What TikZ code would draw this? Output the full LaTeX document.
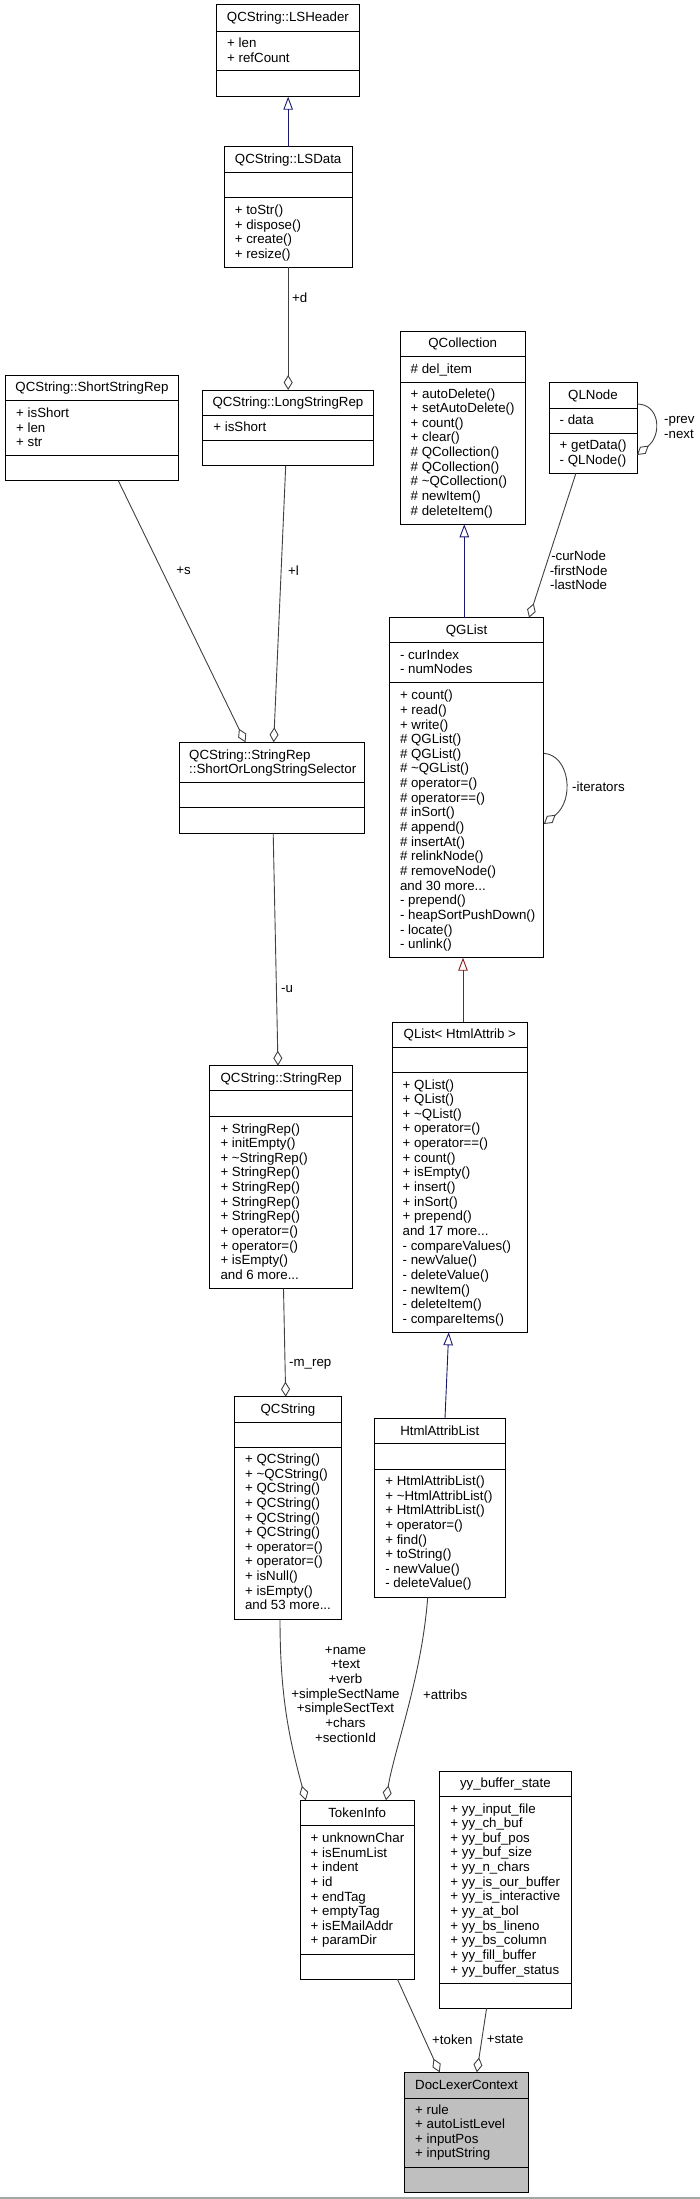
\documentclass[tikz,border=0pt]{standalone}
\usepackage{fontspec}
\setmainfont{Liberation Sans}
\usetikzlibrary{arrows.meta,calc}
\definecolor{inhcol}{RGB}{25,25,112}
\definecolor{tplcol}{RGB}{139,26,26}
\definecolor{aggcol}{RGB}{64,64,64}
\definecolor{dlcfill}{RGB}{191,191,191}
\newcommand\threedots{...}
\newcommand\umlbox[8][white]{%
  \node[clsbox, fill=#1, anchor=north west, minimum width={#5-#3}, minimum height={#6-#4}] (#2) at (#3,#4) {};
  \draw[clsline] (#3,#7) -- (#5,#7);
  \draw[clsline] (#3,#8) -- (#5,#8);
}
\newcommand\umltitle[4]{\node[clstitle] (#1) at (#2,#3) {#4};}
\newcommand\umlmembers[4]{%
  \foreach \t [count=\i from 0] in {#4}{\node[clsmem] (#1-\i) at (#2,{#3+\i*14.65}) {\t};}%
}
\begin{document}
\begin{tikzpicture}[x=1pt,y=-1pt,
  every node/.style={font=\fontsize{13.3}{14.65}\selectfont},
  clsbox/.style={draw=black, line width=1pt, inner sep=0pt, outer sep=0pt},
  clsline/.style={draw=black, line width=1pt},
  clstitle/.style={anchor=base, inner sep=0pt},
  clsmem/.style={anchor=base west, inner sep=0pt},
  elabel/.style={inner sep=0pt},
  inh/.style={draw=inhcol, line width=0.9pt, -{Triangle[open,length=13pt,width=9.5pt]}},
  tpl/.style={draw=tplcol, line width=0.9pt, -{Triangle[open,length=13pt,width=9.5pt]}},
  agg/.style={draw=aggcol, line width=0.9pt, -{Diamond[open,length=15pt,width=9pt]}},
  bottomline/.style={draw=black!35, line width=1.5pt}]
\useasboundingbox (0,0) rectangle (700,2199);

% ---------------- boxes ----------------
\umlbox{lsheader}{216.5}{5}{359.4}{96.7}{31.7}{71}
\umltitle{lsheader-t}{287.95}{22}{QCString::LSHeader}
\umlmembers{lsheader-a}{227}{47.4}{+ len, + refCount}

\umlbox{lsdata}{224.1}{147}{352.2}{267.3}{172.7}{198}
\umltitle{lsdata-t}{288.15}{163.3}{QCString::LSData}
\umlmembers{lsdata-m}{234.6}{214.7}{+ toStr(), + dispose(), + create(), + resize()}

\umlbox{shortrep}{5.4}{375.3}{178.6}{480.7}{400.3}{455}
\umltitle{shortrep-t}{92}{391.4}{QCString::ShortStringRep}
\umlmembers{shortrep-a}{16}{417.4}{+ isShort, + len, + str}

\umlbox{longrep}{202.7}{390}{373.2}{465.7}{415.3}{440.7}
\umltitle{longrep-t}{287.95}{406.4}{QCString::LongStringRep}
\umlmembers{longrep-a}{213.2}{431.4}{+ isShort}

\umlbox{qcoll}{400}{331.7}{525.4}{524.3}{356.7}{382}
\umltitle{qcoll-t}{462.7}{347.4}{QCollection}
\umlmembers{qcoll-a}{410.5}{373.4}{\# del\_item}
\umlmembers{qcoll-m}{410.5}{398}{+ autoDelete(), + setAutoDelete(), + count(), + clear(), \# QCollection(), \# QCollection(), \# \textasciitilde QCollection(), \# newItem(), \# deleteItem()}

\umlbox{qlnode}{549}{382.7}{637}{473}{408}{433.3}
\umltitle{qlnode-t}{593}{399}{QLNode}
\umlmembers{qlnode-a}{559.5}{424}{- data}
\umlmembers{qlnode-m}{559.5}{449.7}{+ getData(), - QLNode()}

\umlbox{qglist}{389.3}{617.7}{543.8}{957.7}{642.7}{682.7}
\umltitle{qglist-t}{466.55}{634}{QGList}
\umlmembers{qglist-a}{399.8}{659}{- curIndex, - numNodes}
\umlmembers{qglist-m}{399.8}{699.7}{+ count(), + read(), + write(), \# QGList(), \# QGList(), \# \textasciitilde QGList(), \# operator=(), \# operator==(), \# inSort(), \# append(), \# insertAt(), \# relinkNode(), \# removeNode(), and 30 more\threedots, - prepend(), - heapSortPushDown(), - locate(), - unlink()}

\umlbox{selector}{179}{742.3}{364.7}{833.3}{782.7}{807.7}
\node[clsmem] (selector-t1) at (189,759) {QCString::StringRep};
\node[clsmem] (selector-t2) at (189,773.65) {::ShortOrLongStringSelector};

\umlbox{strrep}{209.8}{1065.7}{352.7}{1288.7}{1090.7}{1116.7}
\umltitle{strrep-t}{281.25}{1082.4}{QCString::StringRep}
\umlmembers{strrep-m}{220.3}{1133}{+ StringRep(), + initEmpty(), + \textasciitilde StringRep(), + StringRep(), + StringRep(), + StringRep(), + StringRep(), + operator=(), + operator=(), + isEmpty(), and 6 more\threedots}

\umlbox{qlist}{392}{1022}{527.7}{1332.3}{1047}{1072.7}
\umltitle{qlist-t}{459.85}{1038}{QList< HtmlAttrib >}
\umlmembers{qlist-m}{402.5}{1089}{+ QList(), + QList(), + \textasciitilde QList(), + operator=(), + operator==(), + count(), + isEmpty(), + insert(), + inSort(), + prepend(), and 17 more\threedots, - compareValues(), - newValue(), - deleteValue(), - newItem(), - deleteItem(), - compareItems()}

\umlbox{qcstring}{234.4}{1396.7}{341.5}{1619}{1422}{1447}
\umltitle{qcstring-t}{287.95}{1413}{QCString}
\umlmembers{qcstring-m}{244.9}{1463.4}{+ QCString(), + \textasciitilde QCString(), + QCString(), + QCString(), + QCString(), + QCString(), + operator=(), + operator=(), + isNull(), + isEmpty(), and 53 more\threedots}

\umlbox{hal}{374.6}{1418.3}{505}{1597.3}{1443.7}{1469.3}
\umltitle{hal-t}{439.8}{1435}{HtmlAttribList}
\umlmembers{hal-m}{385.1}{1485.4}{+ HtmlAttribList(), + \textasciitilde HtmlAttribList(), + HtmlAttribList(), + operator=(), + find(), + toString(), - newValue(), - deleteValue()}

\umlbox{tokeninfo}{300}{1800.3}{414.3}{1979}{1825.7}{1954}
\umltitle{tokeninfo-t}{357.15}{1817}{TokenInfo}
\umlmembers{tokeninfo-a}{310.5}{1842.4}{+ unknownChar, + isEnumList, + indent, + id, + endTag, + emptyTag, + isEMailAddr, + paramDir}

\umlbox{yybs}{439.7}{1771}{571}{2008.3}{1796.7}{1983.3}
\umltitle{yybs-t}{505.35}{1787.4}{yy\_buffer\_state}
\umlmembers{yybs-a}{450.2}{1813}{+ yy\_input\_file, + yy\_ch\_buf, + yy\_buf\_pos, + yy\_buf\_size, + yy\_n\_chars, + yy\_is\_our\_buffer, + yy\_is\_interactive, + yy\_at\_bol, + yy\_bs\_lineno, + yy\_bs\_column, + yy\_fill\_buffer, + yy\_buffer\_status}

\umlbox[dlcfill]{dlc}{404.5}{2072.3}{528.6}{2192.3}{2098.3}{2167.3}
\umltitle{dlc-t}{466.55}{2089}{DocLexerContext}
\umlmembers{dlc-a}{415}{2114}{+ rule, + autoListLevel, + inputPos, + inputString}

% ---------------- connectors ----------------
\draw[inh] (lsdata.north) -- (lsdata.north |- lsheader.south);
\draw[agg] (lsdata.south) -- (lsdata.south |- longrep.north);
\node[elabel, anchor=west] (lbl-d) at (292,298) {+d};

\draw[inh] ($(qcoll.south |- qglist.north)+(1.6,0)$) -- ($(qcoll.south)+(1.6,0)$);

\draw[agg] ($(qlnode.south)+(-17,0)$) -- ($(qglist.north)+(62.5,0)$);
\node[elabel, align=center] (lbl-cur) at (578.6,570.3) {-curNode\\-firstNode\\-lastNode};

\draw[agg] ([yshift=-21.3pt]qlnode.north east) .. controls +(23,0) and +(25,-20) .. ([yshift=-72.3pt]qlnode.north east);
\node[elabel, align=left, anchor=west] (lbl-pn) at (664,427.5) {-prev\\-next};

\draw[agg] ([yshift=-135.6pt]qglist.north east) .. controls +(26,2) and +(31,-24) .. ([yshift=-206.3pt]qglist.north east);
\node[elabel, anchor=west] (lbl-it) at (572,786.7) {-iterators};

\draw[agg] ($(shortrep.south)+(26.3,0)$) -- ($(selector.north)+(-26.35,0)$);
\node[elabel] (lbl-s) at (183.5,570.7) {+s};
\draw[agg] ($(longrep.south)+(-2.25,0)$) -- ($(selector.north)+(1.85,0)$);
\node[elabel, anchor=west] (lbl-l) at (288,570.7) {+l};

\draw[agg] ($(selector.south)+(1.35,0)$) -- ($(strrep.north)+(-3.25,0)$);
\node[elabel, anchor=west] (lbl-u) at (281,989) {-u};

\draw[tpl] ($(qlist.north)+(3.15,0)$) -- ($(qlist.north |- qglist.south)+(3.15,0)$);

\draw[agg] ($(strrep.south)+(2.25,0)$) -- ($(qcstring.north)+(-2.25,0)$);
\node[elabel, anchor=west] (lbl-mrep) at (289,1364) {-m\_rep};

\draw[inh] ($(hal.north)+(5.2,0)$) -- ($(qlist.south)+(-11.15,0)$);

\draw[agg] ($(qcstring.south)+(-7.95,0)$) .. controls +(0,80) and +(-16,-60) .. ($(tokeninfo.north)+(-51.35,0)$);
\node[elabel, align=center] (lbl-tok) at (345.5,1694.5) {+name\\+text\\+verb\\+simpleSectName\\+simpleSectText\\+chars\\+sectionId};

\draw[agg] ($(hal.south)+(-12.1,0)$) .. controls +(-6,80) and +(8,-50) .. ($(tokeninfo.north)+(28.85,0)$);
\node[elabel, anchor=west] (lbl-attr) at (423,1694.3) {+attribs};

\draw[agg] ($(tokeninfo.south)+(40.15,0)$) -- ($(dlc.north)+(-26.85,0)$);
\node[elabel, anchor=west] (lbl-token) at (432,2039.3) {+token};
\draw[agg] ($(yybs.south)+(-18.75,0)$) -- ($(dlc.north)+(10.25,0)$);
\node[elabel, anchor=west] (lbl-state) at (486.6,2039.3) {+state};

\draw[bottomline] (0,2198) -- (700,2198);
\end{tikzpicture}
\end{document}
